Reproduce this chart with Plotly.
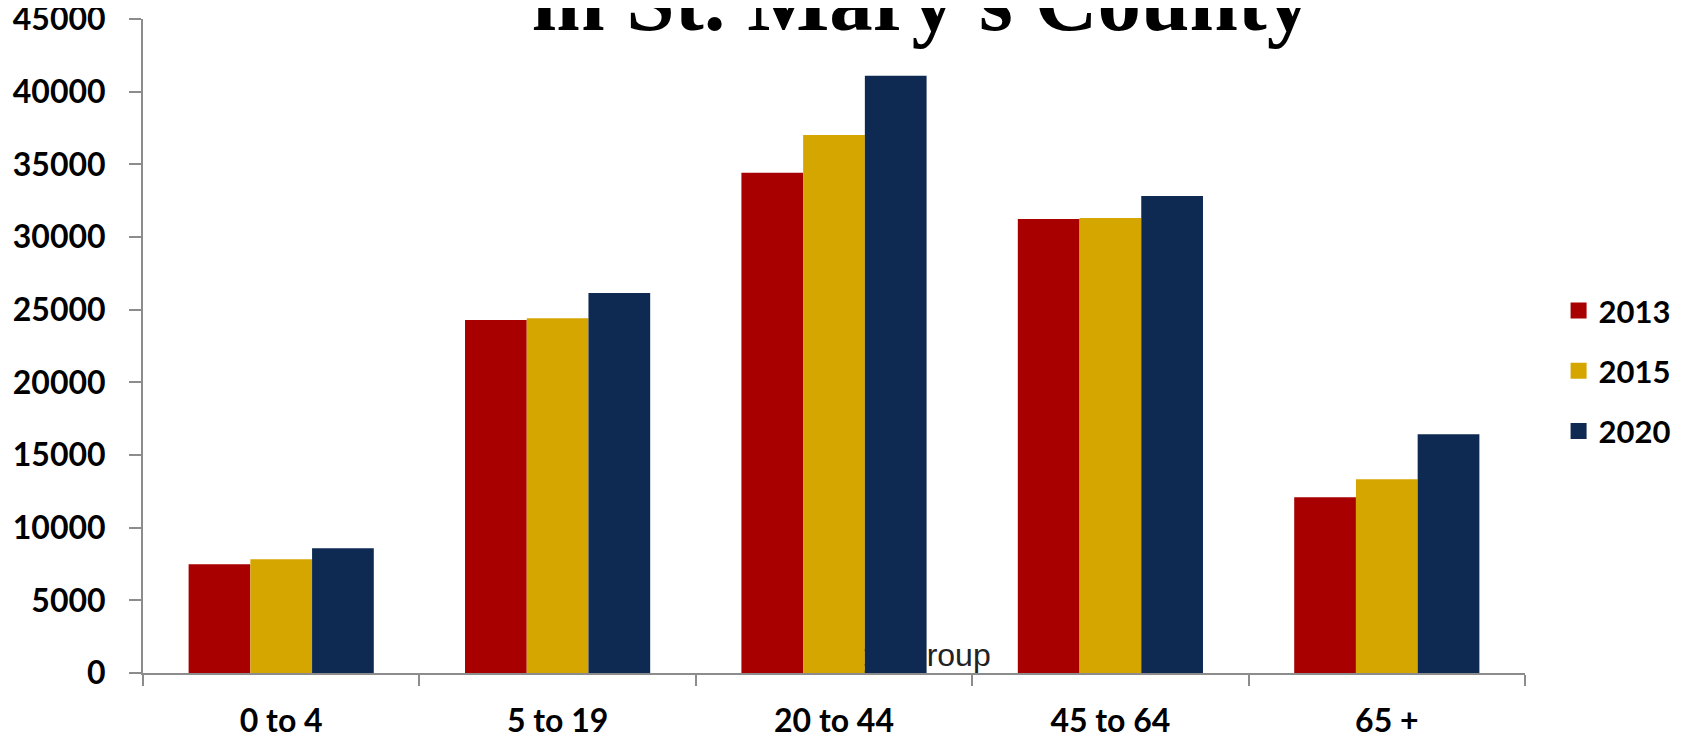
import plotly.graph_objects as go

categories = ["0 to 4", "5 to 19", "20 to 44", "45 to 64", "65 +"]
years = ["2013", "2015", "2020"]
values_2013 = [7490, 24300, 34420, 31240, 12100]
values_2015 = [7830, 24420, 37030, 31310, 13340]
values_2020 = [8590, 26150, 41100, 32830, 16440]
series = [values_2013, values_2015, values_2020]
colors = ["#A80000", "#D6A600", "#0E2A52"]
y_ticks = list(range(0, 45001, 5000))

title_text = "in St. Mary's County"
axis_title = "Age Group"

fig = go.Figure()

# axis title sitting behind the bars (main subplot, drawn first)
fig.add_trace(go.Scatter(
    x=[2.287], y=[1000], mode="text", text=[axis_title],
    textfont=dict(family="Liberation Sans Narrow, Arial Narrow, Liberation Sans", size=32, color="#222222"),
    textposition="middle center", hoverinfo="skip", showlegend=False,
    xaxis="x", yaxis="y", cliponaxis=False,
))

for name, vals, col in zip(years, series, colors):
    fig.add_trace(go.Bar(
        x=categories, y=vals, name=name, marker=dict(color=col, line=dict(width=0)),
        xaxis="x2", yaxis="y2", showlegend=False,
    ))

for i, (name, col) in enumerate(zip(years, colors)):
    fig.add_trace(go.Scatter(
        x=[None], y=[None], mode="markers", name=name,
        marker=dict(symbol="square", size=22, color=col),
        legendgroup=name, xaxis="x2", yaxis="y2",
    ))

axis_gray = "#8C8C8C"
tick_font = dict(family="Lato, Open Sans, sans-serif", size=32, color="#000000", weight="bold")
legend_font = dict(family="Lato, Open Sans, sans-serif", size=31, color="#000000", weight="bold")

fig.update_layout(
    width=1679, height=730,
    margin=dict(l=135, r=144, t=11, b=65),
    paper_bgcolor="white", plot_bgcolor="white",
    barmode="group", bargap=0.33, bargroupgap=0,
    xaxis=dict(type="linear", range=[-0.5, 4.5], visible=False, anchor="y", automargin=False),
    yaxis=dict(
        range=[0, 45010], tickvals=y_ticks, tickformat="d",
        showgrid=False, zeroline=False, showline=True, linecolor=axis_gray, linewidth=2,
        ticks="outside", ticklen=12, tickwidth=2, tickcolor=axis_gray,
        tickfont=tick_font, ticklabelstandoff=17, anchor="x", automargin=False,
        ticklabeloverflow="allow",
    ),
    xaxis2=dict(
        type="category", overlaying="x", anchor="y2", range=[-0.5, 4.5],
        showgrid=False, zeroline=False, showline=True, linecolor=axis_gray, linewidth=2,
        ticks="outside", tickson="boundaries", ticklen=11, tickwidth=2, tickcolor=axis_gray,
        tickfont=tick_font, ticklabelstandoff=19, automargin=False,
        ticklabeloverflow="allow",
    ),
    yaxis2=dict(range=[0, 45010], overlaying="y", anchor="x2", visible=False, automargin=False),
    legend=dict(
        x=1.0243, xanchor="left", y=0.462, yanchor="middle",
        font=legend_font, tracegroupgap=17, traceorder="grouped",
        bgcolor="rgba(0,0,0,0)",
    ),
    annotations=[dict(
        text="<b>" + title_text + "</b>", xref="paper", yref="paper", x=0.563, y=1.029,
        xanchor="center", yanchor="middle", showarrow=False,
        font=dict(family="Liberation Serif, Times New Roman, serif", size=87, color="#000000"),
    )],
)

fig.write_html("out.html")
